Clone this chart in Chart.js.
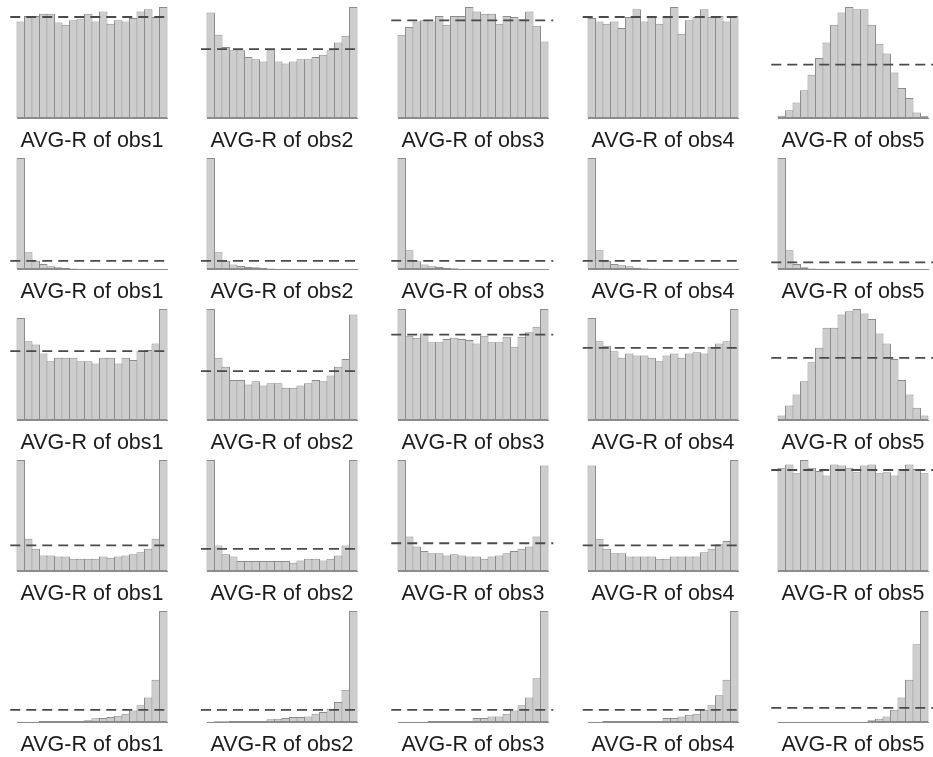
<!DOCTYPE html>
<html><head><meta charset="utf-8">
<script src="https://cdn.jsdelivr.net/npm/chart.js@4.4.1/dist/chart.umd.min.js"></script>
<style>
html,body{margin:0;padding:0;background:#fff;}
#grid{position:relative;width:933px;height:757px;overflow:hidden;}
#grid canvas{position:absolute;}
</style></head><body><div id="grid"></div>
<script>
// 20 rank bins per histogram
const categories = ['1','2','3','4','5','6','7','8','9','10','11','12','13','14','15','16','17','18','19','20'];
const panelTitles = ['AVG-R of obs1','AVG-R of obs2','AVG-R of obs3','AVG-R of obs4','AVG-R of obs5'];

// bar heights, read as % of each panel's tallest bar
const row1_obs1 = [87, 92, 92, 94, 94, 86, 84, 88, 89, 94, 87, 96, 85, 88, 87, 90, 96, 98, 91, 100];
const row1_obs2 = [95, 75, 64, 61, 61, 55, 53, 51, 61, 51, 49, 51, 53, 53, 55, 57, 61, 68, 74, 100];
const row1_obs3 = [75, 82, 87, 88, 87, 92, 84, 92, 92, 100, 96, 94, 94, 85, 92, 91, 89, 96, 83, 69];
const row1_obs4 = [90, 87, 85, 87, 81, 91, 98, 87, 91, 85, 91, 100, 76, 88, 91, 98, 91, 92, 87, 92];
const row1_obs5 = [2, 7, 14, 25, 39, 54, 68, 84, 95, 100, 98, 98, 84, 67, 58, 41, 27, 18, 5, 2];

const row2_obs1 = [100, 15, 7.5, 4.5, 2.5, 1.5, 1, 0.5, 0.3, 0.2, 0.1, 0.1, 0.1, 0.1, 0.1, 0.1, 0.1, 0.1, 0.1, 0.1];
const row2_obs2 = [100, 15, 7.5, 4, 2.7, 1.8, 1.5, 1, 0.5, 0.3, 0.2, 0.1, 0.1, 0.1, 0.1, 0.1, 0.1, 0.1, 0.1, 0.1];
const row2_obs3 = [100, 17, 7, 4, 2.4, 1.8, 1.2, 0.6, 0.3, 0.2, 0.1, 0.1, 0.1, 0.1, 0.1, 0.1, 0.1, 0.1, 0.1, 0.1];
const row2_obs4 = [100, 17, 7.5, 4.5, 3.3, 2.4, 1.2, 0.6, 0.3, 0.2, 0.1, 0.1, 0.1, 0.1, 0.1, 0.1, 0.1, 0.1, 0.1, 0.1];
const row2_obs5 = [100, 17, 4.5, 1.5, 0.5, 0.2, 0.1, 0.1, 0.1, 0.1, 0.1, 0.1, 0.1, 0.1, 0.1, 0.1, 0.1, 0.1, 0.1, 0.1];

const row3_obs1 = [92, 71, 68, 60, 53, 56, 56, 56, 53, 53, 51, 56, 56, 51, 56, 54, 62, 63, 69, 100];
const row3_obs2 = [100, 56, 48, 36, 36, 32, 35, 31, 33, 33, 29, 29, 31, 33, 36, 35, 40, 48, 55, 95];
const row3_obs3 = [100, 76, 74, 78, 70, 70, 73, 74, 73, 72, 69, 76, 70, 70, 75, 66, 75, 79, 84, 100];
const row3_obs4 = [92, 71, 67, 62, 56, 60, 58, 58, 56, 53, 58, 60, 56, 60, 61, 60, 66, 69, 71, 100];
const row3_obs5 = [4, 13, 23, 35, 52, 65, 83, 83, 95, 98, 100, 96, 91, 78, 69, 55, 36, 23, 11, 4];

const row4_obs1 = [100, 29, 20, 14, 14, 13, 13, 11, 11, 11, 11, 13, 12, 13, 14, 15, 17, 20, 29, 100];
const row4_obs2 = [100, 23, 15, 13, 9, 9, 9, 9, 9, 9, 9, 7.5, 9.5, 11, 11, 9.5, 11, 14, 23, 100];
const row4_obs3 = [100, 31, 22, 18, 16, 16, 14, 15, 14, 13, 13, 11, 13, 14, 16, 18, 20, 22, 31, 95];
const row4_obs4 = [95, 29, 20, 16, 16, 13, 13, 13, 13, 11, 11, 13, 13, 13, 13, 17, 20, 24, 27, 100];
const row4_obs5 = [93, 96, 88, 100, 93, 90, 86, 96, 95, 93, 89, 95, 96, 88, 89, 86, 92, 96, 92, 88];

const row5_obs1 = [0.3, 0.3, 0.3, 0.9, 0.9, 0.9, 0.9, 0.9, 0.9, 1.5, 3.3, 3.6, 4.5, 5.6, 7.4, 10.4, 15, 22, 38, 100];
const row5_obs2 = [0.3, 0.6, 0.6, 0.8, 0.8, 0.9, 0.9, 1, 2.4, 3, 3.6, 4.5, 4.5, 5, 7.4, 9, 12, 18, 29, 100];
const row5_obs3 = [0.3, 0.3, 0.3, 0.3, 0.9, 0.9, 0.9, 0.9, 0.9, 0.9, 3.6, 3.6, 5, 5, 7.4, 10.4, 15, 22, 39.5, 100];
const row5_obs4 = [0.3, 0.3, 0.9, 0.9, 0.9, 0.9, 0.9, 0.9, 0.9, 0.9, 3.6, 3.6, 5, 6.5, 7.4, 11, 15, 24, 38, 100];
const row5_obs5 = [0.3, 0.3, 0.3, 0.3, 0.3, 0.3, 0.3, 0.3, 0.3, 0.3, 0.3, 0.3, 1.5, 3, 5, 11, 22, 38, 70, 100];

// expected (uniform) frequency level of the dashed line, per row
const expected_row1 = [91, 62, 88, 91, 48];
const expected_row2 = [7.3, 7.3, 7.3, 7.3, 6];
const expected_row3 = [62, 44, 77, 65, 56];
const expected_row4 = [23, 20, 25, 23, 91];
const expected_row5 = [11, 11, 11, 11, 12.8];

const rows = [
  [row1_obs1, row1_obs2, row1_obs3, row1_obs4, row1_obs5],
  [row2_obs1, row2_obs2, row2_obs3, row2_obs4, row2_obs5],
  [row3_obs1, row3_obs2, row3_obs3, row3_obs4, row3_obs5],
  [row4_obs1, row4_obs2, row4_obs3, row4_obs4, row4_obs5],
  [row5_obs1, row5_obs2, row5_obs3, row5_obs4, row5_obs5]
];
const expectedRows = [expected_row1, expected_row2, expected_row3, expected_row4, expected_row5];

// style: extent of dashed line (in bin units) per column
const lineStartByCol = [-1.4, -1.3, -1.4, -1.2, -1.4];
const lineEndByCol = [19.5, 19.5, 20.2, 19.5, 20.2];

Chart.defaults.font.family = "'Liberation Sans', Arial, sans-serif";

const grid = document.getElementById('grid');
rows.forEach((row, r) => {
  row.forEach((vals, c) => {
    const cv = document.createElement('canvas');
    cv.width = 190; cv.height = 152;
    cv.style.left = Math.round(190.25 * c) + 'px';
    cv.style.top = (151 * r) + 'px';
    grid.appendChild(cv);
    const e = expectedRows[r][c];
    new Chart(cv, {
      type: 'bar',
      data: {
        labels: categories,
        datasets: [
          {
            type: 'bar', data: vals, xAxisID: 'x', yAxisID: 'y', order: 1,
            backgroundColor: '#cdcdcd', borderColor: '#8c8c8c', borderWidth: 1,
            borderSkipped: false, grouped: false,
            barPercentage: 1.133, categoryPercentage: 1, clip: false
          },
          {
            type: 'line', data: [{x: lineStartByCol[c], y: e}, {x: lineEndByCol[c], y: e}],
            xAxisID: 'xl', yAxisID: 'y', order: 0,
            borderColor: '#4a4a4a', borderWidth: 1.8, borderDash: [10, 6],
            pointRadius: 0, fill: false, clip: false
          }
        ]
      },
      options: {
        responsive: false, animation: false, devicePixelRatio: 1,
        layout: { padding: { left: 17, right: 23, top: 7, bottom: 0 } },
        plugins: {
          legend: { display: false }, tooltip: { enabled: false },
          title: {
            display: true, text: panelTitles[c], position: 'bottom',
            color: '#1c1c1c', font: { size: 21.5, weight: 'normal', lineHeight: 1.0 },
            padding: { top: 12.5, bottom: 0 }
          }
        },
        scales: {
          x: { type: 'category', display: true, offset: true,
               grid: { display: false, drawTicks: false }, ticks: { display: false },
               border: { display: true, color: '#8c8c8c', width: 1 } },
          xl: { type: 'linear', display: false, offset: false, min: -0.5, max: 19.5,
                grid: { offset: false } },
          y: { display: false, min: 0, max: 100 }
        }
      }
    });
  });
});
</script></body></html>
